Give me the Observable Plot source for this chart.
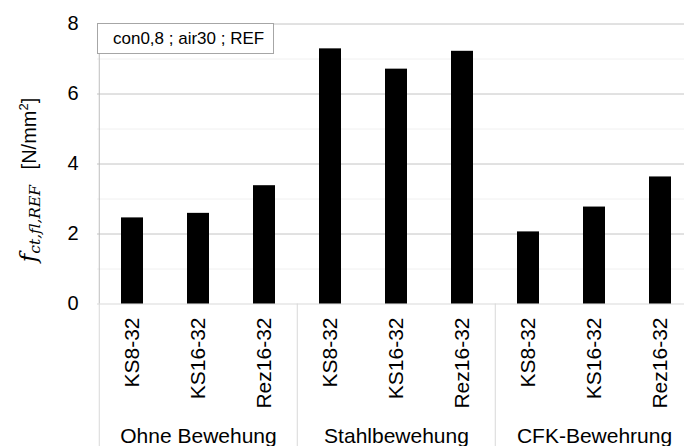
<!DOCTYPE html>
<html><head><meta charset="utf-8">
<script src="https://cdn.jsdelivr.net/npm/d3@7"></script>
<script src="https://cdn.jsdelivr.net/npm/@observablehq/plot@0.6"></script>
<style>
html,body{margin:0;padding:0;background:#fff;overflow:hidden;}
#wrap{position:relative;width:684px;height:446px;overflow:hidden;}
#legend{position:absolute;left:97px;top:23px;width:177px;height:31px;box-sizing:border-box;border:1px solid #a6a6a6;background:#fff;font:17px "Liberation Sans",Arial,sans-serif;color:#000;padding-left:15px;line-height:29px;white-space:nowrap;}
</style></head><body><div id="wrap"></div>
<script>
const groups = ["Ohne Bewehung", "Stahlbewehung", "CFK-Bewehrung"];
const categories = ["KS8-32", "KS16-32", "Rez16-32"];
const valuesOhne = [2.46, 2.59, 3.38];
const valuesStahl = [7.29, 6.71, 7.22];
const valuesCFK = [2.06, 2.77, 3.63];
const yTicks = [0, 2, 4, 6, 8];
const yMinorTicks = [1, 3, 5, 7];
const legendText = "con0,8 ; air30 ; REF";

const seriesValues = [valuesOhne, valuesStahl, valuesCFK];
const data = [];
groups.forEach((g, gi) => categories.forEach((c, ci) => data.push({key: g + "|" + c, group: g, category: c, value: seriesValues[gi][ci]})));
const keys = data.map(d => d.key);
const groupMid = groups.map((g, gi) => ({group: g, key: keys[gi * categories.length + Math.floor(categories.length / 2)]}));
const groupStart = groups.map((g, gi) => keys[gi * categories.length]);

const W = 684, H = 446, mL = 97, mT = 23.5, mB = 142.5;
const xRange = [97, 695];
const step = (xRange[1] - xRange[0]) / keys.length;
const pxPerUnit = (H - mB - mT) / 8;
const yBottom = -(mB) / pxPerUnit;
const font = "Liberation Sans, Arial, sans-serif";

const plot = Plot.plot({
  width: W, height: H,
  marginLeft: mL, marginTop: mT, marginBottom: mB, marginRight: 0,
  style: {fontFamily: font, background: "white", color: "black"},
  x: {type: "band", domain: keys, range: xRange, paddingInner: 0.67, paddingOuter: 0.335, axis: null},
  y: {domain: [0, 8], axis: null},
  marks: [
    Plot.ruleY(yMinorTicks, {stroke: "#f0f0f0"}),
    Plot.ruleY(yTicks.filter(d => d > 0), {stroke: "#c4c4c4"}),
    Plot.ruleY([0], {stroke: "#d9d9d9"}),
    Plot.barY(data, {x: "key", y: "value", fill: "black"}),
    Plot.ruleX([keys[0]], {dx: -step / 2, y1: 0, y2: 8, stroke: "#bfbfbf"}),
    Plot.ruleX(groupStart, {dx: -step / 2, y1: 0, y2: yBottom, stroke: "#d9d9d9"}),
    Plot.axisY({ticks: yTicks, tickSize: 0, tickPadding: 19, fontSize: 20, label: null, fill: "black"}),
    Plot.text(data, {x: "key", text: "category", frameAnchor: "bottom", dy: 13.5, rotate: -90, textAnchor: "end", lineAnchor: "middle", fontSize: 21, fill: "black"}),
    Plot.text(groupMid, {x: "key", text: "group", frameAnchor: "bottom", dy: 132.5, lineAnchor: "middle", fontSize: 21, fill: "black"})
  ]
});

const wrap = document.getElementById("wrap");
wrap.appendChild(plot);

const svg = d3.select(plot);
const lab = svg.append("text")
  .attr("transform", "translate(36,180) rotate(-90)")
  .attr("text-anchor", "middle")
  .attr("fill", "black");
lab.append("tspan").attr("font-family", "DejaVu Serif").attr("font-style", "italic").attr("font-size", 23).text("f");
lab.append("tspan").attr("font-family", "DejaVu Serif").attr("font-style", "italic").attr("font-size", 15.5).attr("dy", 4).text("ct,fl,REF");
lab.append("tspan").attr("font-family", font).attr("font-size", 20).attr("dy", -4).text("\u2002 [N/mm");
lab.append("tspan").attr("font-family", font).attr("font-size", 13).attr("dy", -8).text("2");
lab.append("tspan").attr("font-family", font).attr("font-size", 20).attr("dy", 8).text("]");

const leg = document.createElement("div");
leg.id = "legend";
leg.textContent = legendText;
wrap.appendChild(leg);
</script>
</body></html>
